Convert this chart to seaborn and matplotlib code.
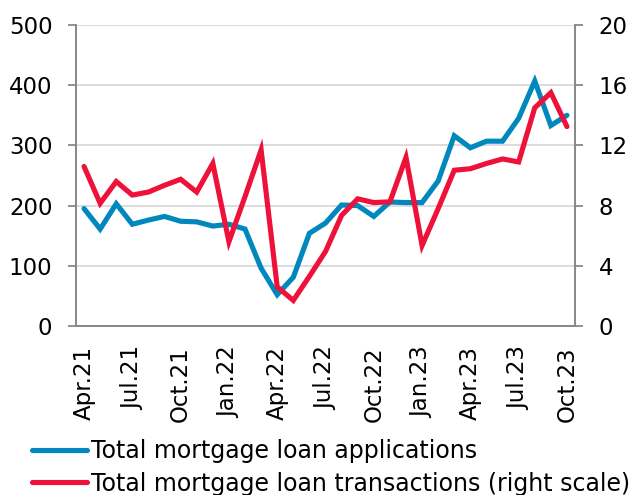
import matplotlib
matplotlib.use("Agg")
import matplotlib.pyplot as plt
import seaborn as sns
import pandas as pd
import numpy as np
from matplotlib.lines import Line2D

months = ["Apr.21","May.21","Jun.21","Jul.21","Aug.21","Sep.21","Oct.21","Nov.21","Dec.21",
          "Jan.22","Feb.22","Mar.22","Apr.22","May.22","Jun.22","Jul.22","Aug.22","Sep.22",
          "Oct.22","Nov.22","Dec.22","Jan.23","Feb.23","Mar.23","Apr.23","May.23","Jun.23",
          "Jul.23","Aug.23","Sep.23","Oct.23"]
applications = [195, 161, 203, 169, 176, 182, 174, 173, 166, 169, 161, 96, 52, 81, 154,
                171, 201, 200, 182, 206, 205, 205, 241, 316, 296, 307, 307, 345, 407, 333, 350]
transactions = [10.6, 8.15, 9.6, 8.7, 8.9, 9.35, 9.75, 8.9, 10.8, 5.6, 8.6, 11.7, 2.6, 1.7, 3.3,
                4.95, 7.35, 8.45, 8.2, 8.25, 11.2, 5.35, 7.8, 10.35, 10.45, 10.8, 11.1, 10.9,
                14.5, 15.5, 13.25]
tick_labels = ["Apr.21","Jul.21","Oct.21","Jan.22","Apr.22","Jul.22","Oct.22","Jan.23",
               "Apr.23","Jul.23","Oct.23"]

BLUE = "#0088BE"
RED = "#EE1139"
GRID = "#D9D9D9"
SPINE = "#898989"
FS = 16.5

sns.set_style("white")
plt.rcParams['font.family'] = ['DejaVu Sans']
plt.rcParams['text.color'] = 'black'
plt.rcParams['xtick.labelcolor'] = 'black'
plt.rcParams['ytick.labelcolor'] = 'black'

df = pd.DataFrame({"pos": np.arange(len(months)), "month": months,
                   "applications": applications, "transactions": transactions})

fig = plt.figure(figsize=(6.29, 4.95), dpi=100)
ax = fig.add_axes([76/629, 1-326/495, (575-76)/629, (326-25)/495])
ax2 = ax.twinx()

sns.lineplot(data=df, x="pos", y="applications", ax=ax, color=BLUE, linewidth=3.7,
             solid_joinstyle="miter", legend=False)
sns.lineplot(data=df, x="pos", y="transactions", ax=ax2, color=RED, linewidth=3.7,
             solid_joinstyle="miter", legend=False)

ax.set_xlim(-0.5, len(months) - 0.5)
ax.set_ylim(0, 500)
ax2.set_ylim(0, 20)
ax.set_yticks(np.arange(0, 501, 100))
ax2.set_yticks(np.arange(0, 21, 4))
ax.yaxis.grid(True, color=GRID, linewidth=1.3)
ax.set_axisbelow(True)

label_pos = [months.index(m) for m in tick_labels]
ax.set_xticks(label_pos)
ax.set_xticklabels(tick_labels, rotation=90)
ax.set_xticks(np.arange(-0.5, len(months) - 0.5, 3), minor=True)
ax.tick_params(axis="x", which="major", length=0, pad=14.5, labelsize=FS, labelcolor="black")
ax.tick_params(axis="x", which="minor", length=7, width=1.3, color=SPINE, direction="out")
ax.tick_params(axis="y", length=6, width=1.3, color=SPINE, labelsize=FS, pad=11,
               direction="out", left=True, labelcolor="black")
ax2.tick_params(axis="y", length=6, width=1.3, color=SPINE, labelsize=FS, pad=11,
                direction="out", right=True, labelcolor="black")

ax.set_xlabel("")
ax.set_ylabel("")
ax2.set_ylabel("")
for a in (ax, ax2):
    a.spines["top"].set_visible(False)
    for s in ("left", "right", "bottom"):
        a.spines[s].set_color(SPINE)
        a.spines[s].set_linewidth(1.3)

handles = [Line2D([0], [0], color=BLUE, linewidth=3.7, solid_capstyle="round"),
           Line2D([0], [0], color=RED, linewidth=3.7, solid_capstyle="round")]
leg = fig.legend(handles, ["Total mortgage loan applications",
                           "Total mortgage loan transactions (right scale)"],
                 loc="upper left", bbox_to_anchor=(32/629, 1-439/495), frameon=False,
                 fontsize=17, handlelength=2.35, handletextpad=0.15, labelspacing=0.36,
                 borderpad=0, borderaxespad=0)
for t in leg.get_texts():
    t.set_color("black")

fig.savefig("out.png", dpi=100)
